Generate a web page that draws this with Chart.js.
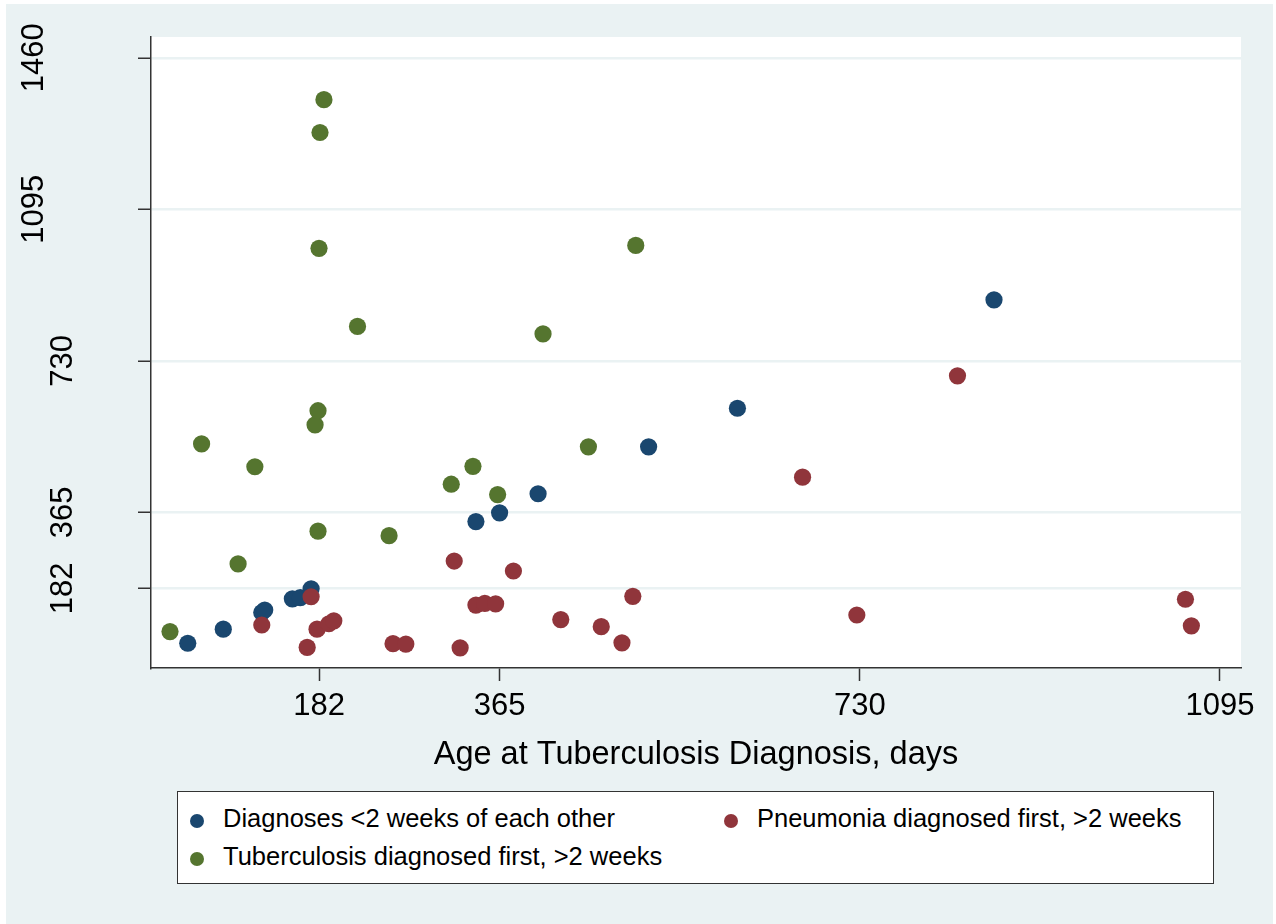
<!DOCTYPE html>
<html>
<head>
<meta charset="utf-8">
<script src="https://cdn.jsdelivr.net/npm/chart.js@4"></script>
<style>
  body { margin: 0; background: #fff; }
  #wrap { position: relative; width: 1276px; height: 924px; }
  #legend {
    position: absolute; left: 177px; top: 791px; width: 1037px; height: 93px;
    box-sizing: border-box; border: 1.5px solid #333; background: #fff;
    font-family: "Liberation Sans", Arial, sans-serif; font-size: 25.5px; color: #000;
  }
  .item { position: absolute; white-space: nowrap; line-height: 30px; }
  .dot { display: inline-block; width: 14px; height: 14px; border-radius: 50%; margin-right: 19px; vertical-align: -1px; }
</style>
</head>
<body>
<div id="wrap">
  <canvas id="chart" width="1276" height="924"></canvas>
  <div id="legend">
    <div class="item" style="left:12px; top:11px"><span class="dot" style="background:#1A476F"></span>Diagnoses &lt;2 weeks of each other</div>
    <div class="item" style="left:546px; top:11px"><span class="dot" style="background:#90353B"></span>Pneumonia diagnosed first, &gt;2 weeks</div>
    <div class="item" style="left:12px; top:49px"><span class="dot" style="background:#55752F"></span>Tuberculosis diagnosed first, &gt;2 weeks</div>
  </div>
</div>
<script>
// tick values (days)
var xTicks = [182, 365, 730, 1095];
var yTicks = [182, 365, 730, 1095, 1460];

// Diagnoses <2 weeks of each other
var blueX = [49, 85, 124, 127, 155, 163, 174, 341, 365, 404, 516, 606, 866];
var blueY = [50, 84, 124, 130, 157, 160, 181, 343, 364, 410, 523, 616, 877];

// Pneumonia diagnosed first, >2 weeks
var redX = [124, 170, 174, 180, 192, 197, 257, 270, 319, 325, 341, 350, 361, 379, 427, 468, 489, 500, 672, 727, 829, 1060, 1066];
var redY = [94, 40, 162, 84, 97, 104, 49, 48, 248, 39, 142, 146, 145, 224, 107, 90, 51, 163, 450, 118, 694, 156, 92];

// Tuberculosis diagnosed first, >2 weeks
var greenX = [31, 63, 100, 117, 178, 181, 181, 182, 183, 187, 221, 253, 316, 338, 363, 409, 455, 503];
var greenY = [78, 530, 241, 475, 576, 610, 320, 1001, 1280, 1359, 813, 309, 433, 476, 408, 795, 523, 1008];

function pts(xs, ys) {
  return xs.map((x, i) => ({x: x, y: ys[i]}));
}

const bgPlugin = {
  id: 'bg',
  beforeDraw(chart) {
    const ctx = chart.ctx, a = chart.chartArea;
    ctx.save();
    ctx.fillStyle = '#EAF2F3';
    ctx.fillRect(6, 4, 1267, 920);
    ctx.fillStyle = '#fff';
    ctx.fillRect(a.left, a.top, a.right - a.left, a.bottom - a.top);
    ctx.restore();
  }
};

// rotated y labels like the original
const yLabelPlugin = {
  id: 'yLabels',
  afterDraw(chart) {
    const ctx = chart.ctx, scale = chart.scales.y;
    ctx.save();
    ctx.font = '31px "Liberation Sans", Arial, sans-serif';
    ctx.fillStyle = '#000';
    ctx.textAlign = 'center';
    ctx.textBaseline = 'alphabetic';
    yTicks.forEach(v => {
      const label = String(v);
      const py = scale.getPixelForValue(v);
      const bx = label.length > 3 ? 43 : 72;
      ctx.save();
      ctx.translate(bx, py);
      ctx.rotate(-Math.PI / 2);
      ctx.fillText(label, 0, 0);
      ctx.restore();
    });
    ctx.restore();
  }
};

var chart = new Chart(document.getElementById('chart'), {
  type: 'scatter',
  data: {
    datasets: [
      { label: 'Diagnoses <2 weeks of each other', data: pts(blueX, blueY), backgroundColor: '#1A476F', order: 3 },
      { label: 'Pneumonia diagnosed first, >2 weeks', data: pts(redX, redY), backgroundColor: '#90353B', order: 2 },
      { label: 'Tuberculosis diagnosed first, >2 weeks', data: pts(greenX, greenY), backgroundColor: '#55752F', order: 1 }
    ]
  },
  options: {
    responsive: false,
    animation: false,
    devicePixelRatio: 1,
    layout: { padding: { left: 0, top: 37, right: 35, bottom: 149 } },
    elements: { point: { radius: 8.6, borderWidth: 0, hoverRadius: 8.6 } },
    plugins: { legend: { display: false }, tooltip: { enabled: false } },
    scales: {
      x: {
        type: 'linear',
        min: 11.75, max: 1116.3,
        afterBuildTicks: s => { s.ticks = xTicks.map(v => ({value: v})); },
        afterFit: s => { s.height = 107; },
        grid: { drawOnChartArea: false, tickColor: '#333', tickLength: 13, tickWidth: 1.5 },
        border: { color: '#333', width: 1.5 },
        ticks: {
          color: '#000', padding: 7,
          callback: v => String(v),
          font: { family: '"Liberation Sans", Arial, sans-serif', size: 31 }
        },
        title: {
          display: true, text: 'Age at Tuberculosis Diagnosis, days', color: '#000',
          padding: { top: 0, bottom: 0 },
          font: { family: '"Liberation Sans", Arial, sans-serif', size: 32.5 }
        }
      },
      y: {
        type: 'linear',
        min: -9.6, max: 1510,
        afterBuildTicks: s => { s.ticks = yTicks.map(v => ({value: v})); },
        afterFit: s => { s.width = 151; },
        grid: { color: '#EAF2F3', lineWidth: 2.5, tickColor: '#333', tickLength: 13, tickWidth: 1.5 },
        border: { color: '#333', width: 1.5 },
        ticks: { display: false }
      }
    }
  },
  plugins: [bgPlugin, yLabelPlugin]
});
</script>
</body>
</html>
